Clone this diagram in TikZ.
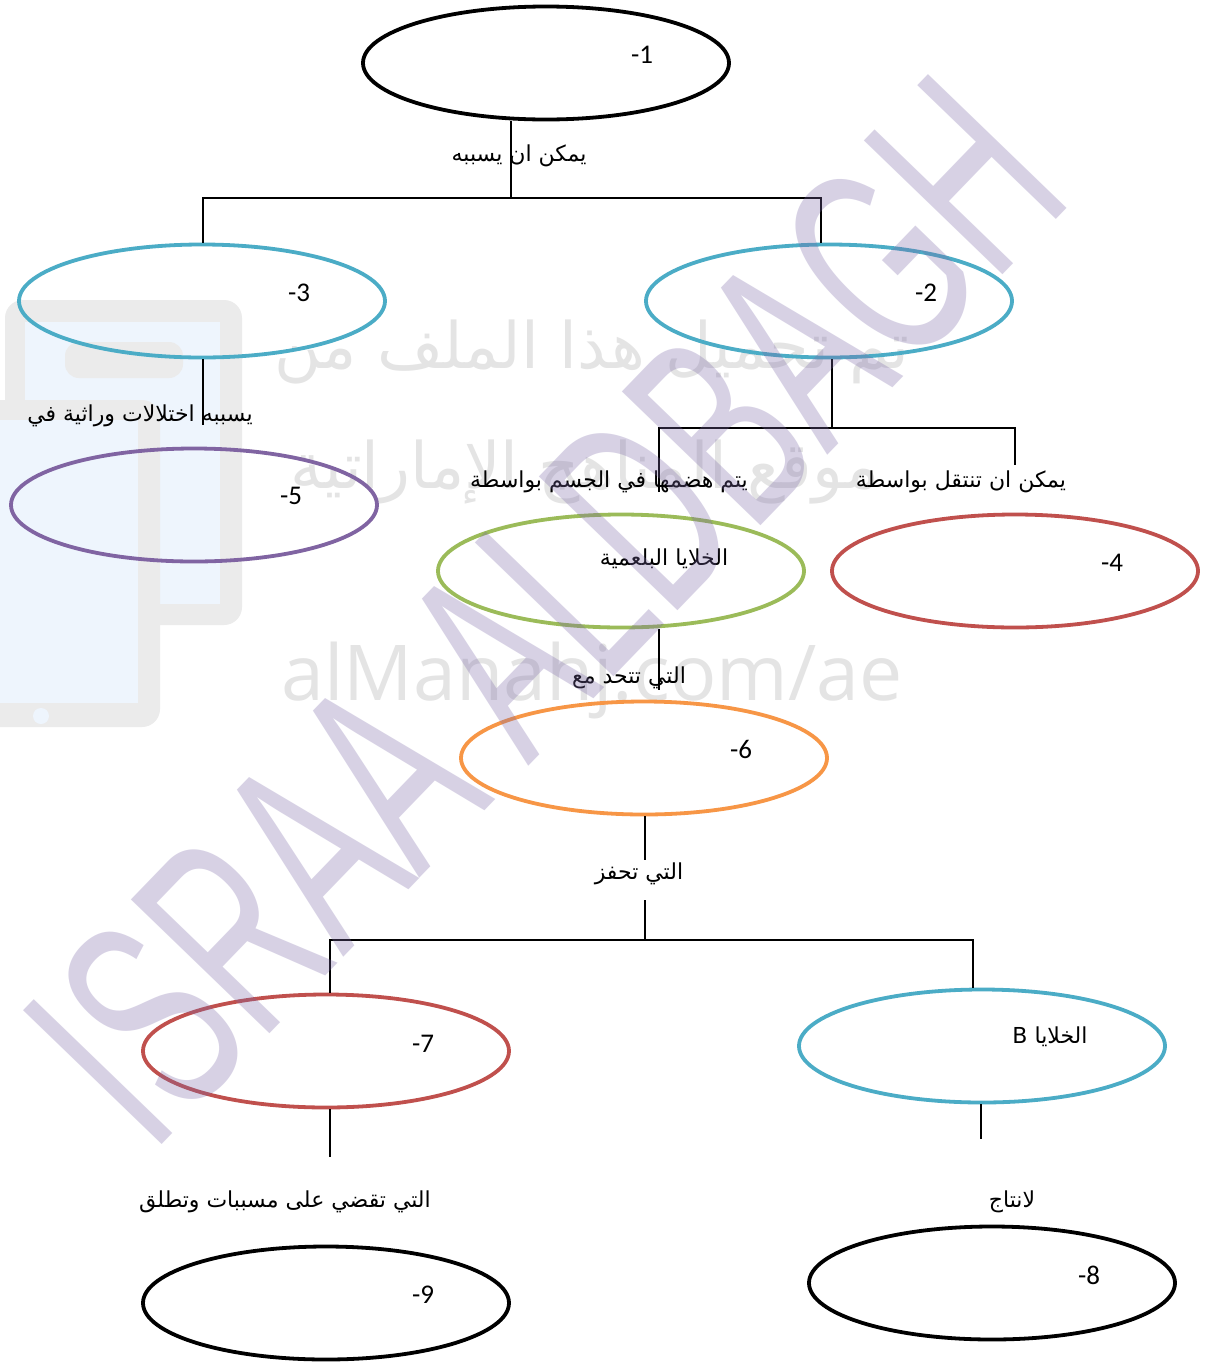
\documentclass[tikz,border=0pt]{standalone}
\usepackage{fontspec}
\setmainfont{Carlito}
\newfontfamily\arabicfont[Script=Arabic]{DejaVu Sans}
\newfontfamily\wmfont{Liberation Sans}
\newfontfamily\osfont{Open Sans}
\TeXXeTstate=1
\usetikzlibrary{shapes.geometric}
\definecolor{cCyan}{HTML}{4BACC6}
\definecolor{cPurple}{HTML}{8064A2}
\definecolor{cRed}{HTML}{C0504D}
\definecolor{cGreen}{HTML}{9BBB59}
\definecolor{cOrange}{HTML}{F79646}
\definecolor{wmPurple}{HTML}{7B68A8}
\definecolor{wmGray}{HTML}{EBEBEB}
\definecolor{wmBlue}{HTML}{EEF5FD}
\definecolor{wmText}{HTML}{E4E4E4}
\begin{document}
\begin{tikzpicture}[x=1pt,y=-1pt,
  oval/.style={ellipse, draw, line width=3.8pt, minimum width=366pt, minimum height=113pt, inner sep=0pt},
  conn/.style={line width=1.4pt},
  num/.style={anchor=base, font=\fontsize{27}{27}\selectfont, inner sep=0pt},
  lab/.style={anchor=base, font=\arabicfont\fontsize{22}{22}\selectfont, inner sep=0pt},
  wmtxt/.style={anchor=base, text=wmText, inner sep=0pt}]
\useasboundingbox (0,0) rectangle (1211,1366);
\fill[white] (0,0) rectangle (1211,1366);
% ---- watermark: phone icon ----
\fill[wmGray, rounded corners=18pt] (5,300) rectangle (242,625);
\fill[wmBlue] (25,322) rectangle (220,604);
\fill[wmGray, rounded corners=14pt] (65,342) rectangle (183,378);
\fill[wmGray, rounded corners=18pt] (-30,400) rectangle (160,727);
\fill[wmBlue] (-10,420) rectangle (138,703);
\fill[wmBlue] (41,716) circle (8);
% ---- watermark: site texts ----
\node[wmtxt, font=\arabicfont\fontsize{64}{64}\selectfont] (wm1) at (592,368) {\beginR تم تحميل هذا الملف من\endR};
\node[wmtxt, font=\arabicfont\fontsize{64}{64}\selectfont] (wm2) at (585,488) {\beginR موقع المناهج الإماراتية\endR};
\node[wmtxt, font=\osfont\fontsize{77}{77}\selectfont] (wm3) at (592,700) {alManahj.com/ae};
% ---- ellipses ----
\node[oval, draw=black] (e1) at (546,63) {};
\node[oval, draw=cCyan] (e2) at (829,301) {};
\node[oval, draw=cCyan] (e3) at (202,301) {};
\node[oval, draw=cPurple] (e5) at (194,505) {};
\node[oval, draw=cRed] (e4) at (1015,571) {};
\node[oval, draw=cGreen] (eP) at (621,571) {};
\node[oval, draw=cOrange] (e6) at (644,758) {};
\node[oval, draw=cRed] (e7) at (326,1051) {};
\node[oval, draw=cCyan] (eB) at (982,1046) {};
\node[oval, draw=black] (e9) at (326,1303) {};
\node[oval, draw=black] (e8) at (992,1283) {};
% ---- texts inside ellipses ----
\node[num] (t1) at (642,63) {-1};
\node[num] (t2) at (926,301) {-2};
\node[num] (t3) at (299,301) {-3};
\node[num] (t5) at (291,504) {-5};
\node[num] (t4) at (1112,571) {-4};
\node[lab] (tP) at (664,565) {\beginR الخلايا البلعمية\endR};
\node[num] (t6) at (741,758) {-6};
\node[num] (t7) at (423,1052) {-7};
\node[lab] (tB) at (1050,1043) {\beginR الخلايا B\endR};
\node[num] (t9) at (423,1303) {-9};
\node[num] (t8) at (1089,1284) {-8};
% ---- connector labels ----
\node[lab] (l1) at (519,161) {\beginR يمكن ان يسببه\endR};
\node[lab] (l3) at (140,421) {\beginR يسببه اختلالات وراثية في\endR};
\node[lab] (l2a) at (609,487) {\beginR يتم هضمها في الجسم بواسطة\endR};
\node[lab] (l2b) at (961,487) {\beginR يمكن ان تنتقل بواسطة\endR};
\node[lab] (lP) at (629,683) {\beginR التي تتحد مع\endR};
\node[lab] (l6) at (639,879) {\beginR التي تحفز\endR};
\node[lab] (l7) at (285,1207) {\beginR التي تقضي على مسببات وتطلق\endR};
\node[lab] (lB) at (1012,1207) {\beginR لانتاج\endR};
% ---- connectors ----
\coordinate (j1) at (511,198);
\coordinate (j1l) at (203,198);
\coordinate (j1r) at (821,198);
\draw[conn] (e1.south -| j1) -- (j1);
\draw[conn] (e3.north -| j1l) -- (j1l) -- (j1r) -- (e2.north -| j1r);
\coordinate (f3) at (203,425);
\draw[conn] (e3.south -| f3) -- (f3);
\coordinate (j2) at (832,428);
\coordinate (j2l) at (659,428);
\coordinate (j2r) at (1015,428);
\coordinate (f2l) at (659,492);
\coordinate (f2r) at (1015,465);
\draw[conn] (e2.south -| j2) -- (j2);
\draw[conn] (f2l) -- (j2l) -- (j2r) -- (f2r);
\coordinate (fP) at (659,690);
\draw[conn] (eP.south -| fP) -- (fP);
\coordinate (f6) at (645,860);
\draw[conn] (e6.south -| f6) -- (f6);
\coordinate (g6) at (645,900);
\coordinate (j6) at (645,940);
\coordinate (j6l) at (330,940);
\coordinate (j6r) at (973,940);
\draw[conn] (g6) -- (j6);
\draw[conn] (e7.north -| j6l) -- (j6l) -- (j6r) -- (eB.north -| j6r);
\coordinate (f7) at (330,1157);
\draw[conn] (e7.south -| f7) -- (f7);
\coordinate (fB) at (981,1139);
\draw[conn] (eB.south -| fB) -- (fB);
% ---- watermark: name ----
\node[rotate=46, text=wmPurple, opacity=0.3, inner sep=0pt, font=\wmfont\fontsize{280}{280}\selectfont] (wmName) at (545,610) {\scalebox{0.59}[1]{ISRAA ALDBAGH}};
\end{tikzpicture}
\end{document}
